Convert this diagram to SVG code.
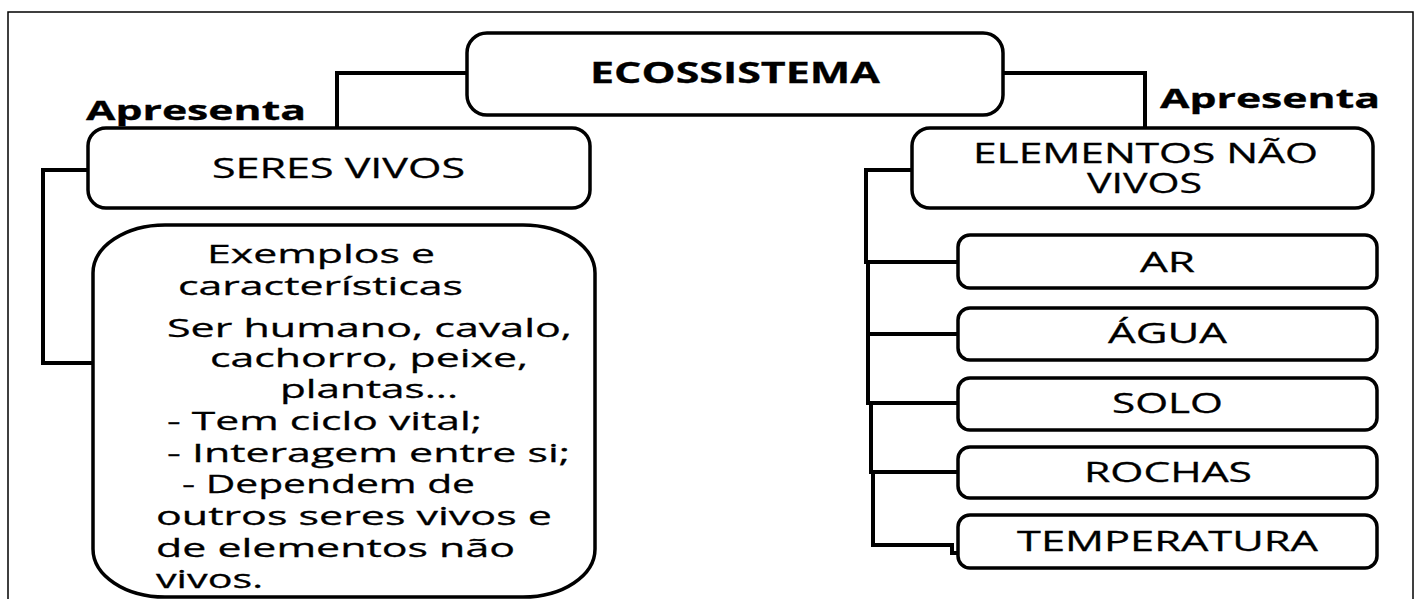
<svg xmlns="http://www.w3.org/2000/svg" width="1416" height="599" viewBox="0 0 1416 599">
<style>
  .box { fill: #fff; stroke: #000; stroke-width: 3.5; }
  .conn { fill: none; stroke: #000; stroke-width: 4; stroke-linejoin: miter; }
  text { font-family: "Open Sans", "Liberation Sans", sans-serif; fill: #000; stroke: #000; stroke-width: 0.3; }
  .t { font-size: 26px; }
  .c { font-size: 27px; }
  .b { font-size: 27px; font-weight: bold; }
  .h { font-size: 29px; font-weight: bold; }
</style>
<rect x="0" y="0" width="1416" height="599" fill="#fff"/>
<rect x="8" y="12" width="1405" height="600" fill="none" stroke="#000" stroke-width="1.5"/>

<g id="connectors">
  <path class="conn" d="M467 73 H337 V128"/>
  <path class="conn" d="M1003 73 H1145 V128"/>
  <path class="conn" d="M88 170 H43 V363 H93"/>
  <path class="conn" d="M912 170 H866 V262 H958"/>
  <path class="conn" d="M866 262 H868 V334 H958"/>
  <path class="conn" d="M868 334 V403 H958"/>
  <path class="conn" d="M871 403 V472 H958"/>
  <path class="conn" d="M873 472 V545 H952 V553 H958"/>
</g>

<g id="label-apresenta-left">
  <text class="b" x="86" y="120" textLength="220" lengthAdjust="spacingAndGlyphs">Apresenta</text>
</g>
<g id="label-apresenta-right">
  <text class="b" x="1160" y="108" textLength="220" lengthAdjust="spacingAndGlyphs">Apresenta</text>
</g>

<g id="ecossistema">
  <rect class="box" x="467" y="33" width="536" height="82" rx="20" ry="20"/>
  <text class="h" x="590" y="83" textLength="290" lengthAdjust="spacingAndGlyphs">ECOSSISTEMA</text>
</g>

<g id="seres-vivos">
  <rect class="box" x="88" y="128" width="502" height="80" rx="18" ry="18"/>
  <text class="c" x="212" y="178" textLength="253" lengthAdjust="spacingAndGlyphs">SERES VIVOS</text>
</g>

<g id="exemplos">
  <rect class="box" x="93" y="225" width="502" height="372" rx="72" ry="48"/>
  <text class="t" x="207" y="263" textLength="228" lengthAdjust="spacingAndGlyphs">Exemplos e</text>
  <text class="t" x="178" y="295" textLength="285" lengthAdjust="spacingAndGlyphs">características</text>
  <text class="t" x="167" y="337" textLength="405" lengthAdjust="spacingAndGlyphs">Ser humano, cavalo,</text>
  <text class="t" x="210" y="367" textLength="318" lengthAdjust="spacingAndGlyphs">cachorro, peixe,</text>
  <text class="t" x="280" y="398" textLength="178" lengthAdjust="spacingAndGlyphs">plantas...</text>
  <text class="t" x="167" y="430" textLength="315" lengthAdjust="spacingAndGlyphs">- Tem ciclo vital;</text>
  <text class="t" x="167" y="462" textLength="403" lengthAdjust="spacingAndGlyphs">- Interagem entre si;</text>
  <text class="t" x="182" y="493" textLength="293" lengthAdjust="spacingAndGlyphs">- Dependem de</text>
  <text class="t" x="156" y="525" textLength="396" lengthAdjust="spacingAndGlyphs">outros seres vivos e</text>
  <text class="t" x="156" y="557" textLength="359" lengthAdjust="spacingAndGlyphs">de elementos não</text>
  <text class="t" x="156" y="588" textLength="107" lengthAdjust="spacingAndGlyphs">vivos.</text>
</g>

<g id="elementos-nao-vivos">
  <rect class="box" x="912" y="128" width="461" height="80" rx="18" ry="18"/>
  <text class="c" x="973" y="163" textLength="345" lengthAdjust="spacingAndGlyphs">ELEMENTOS NÃO</text>
  <text class="c" x="1087" y="193" textLength="115" lengthAdjust="spacingAndGlyphs">VIVOS</text>
</g>

<g id="ar">
  <rect class="box" x="958" y="235" width="419" height="53" rx="12" ry="12"/>
  <text class="c" x="1140" y="272" textLength="55" lengthAdjust="spacingAndGlyphs">AR</text>
</g>
<g id="agua">
  <rect class="box" x="958" y="308" width="419" height="52" rx="12" ry="12"/>
  <text class="c" x="1108" y="343" textLength="119" lengthAdjust="spacingAndGlyphs">ÁGUA</text>
</g>
<g id="solo">
  <rect class="box" x="958" y="378" width="419" height="52" rx="12" ry="12"/>
  <text class="c" x="1112" y="413" textLength="111" lengthAdjust="spacingAndGlyphs">SOLO</text>
</g>
<g id="rochas">
  <rect class="box" x="958" y="447" width="419" height="51" rx="12" ry="12"/>
  <text class="c" x="1084" y="482" textLength="168" lengthAdjust="spacingAndGlyphs">ROCHAS</text>
</g>
<g id="temperatura">
  <rect class="box" x="958" y="515" width="419" height="53" rx="12" ry="12"/>
  <text class="c" x="1017" y="551" textLength="301" lengthAdjust="spacingAndGlyphs">TEMPERATURA</text>
</g>
</svg>
